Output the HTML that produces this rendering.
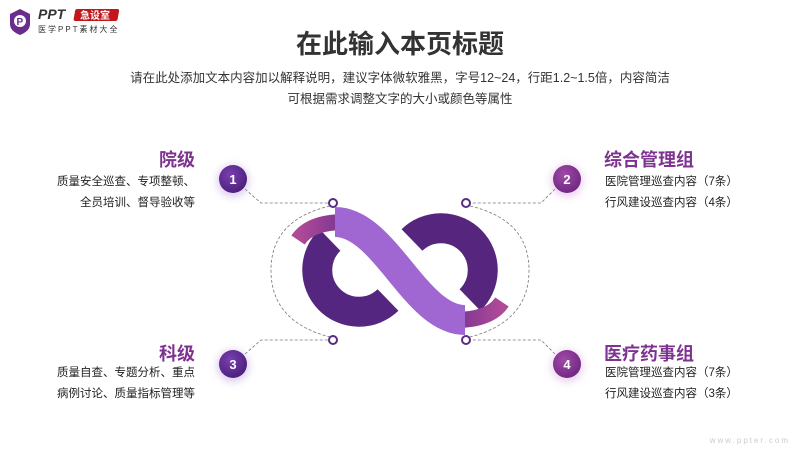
<!DOCTYPE html>
<html><head><meta charset="utf-8"><style>
body{margin:0;width:800px;height:450px;background:#fff;position:relative;overflow:hidden;font-family:"Liberation Sans","Noto Sans CJK SC",sans-serif;color:#333}
.a{position:absolute;white-space:nowrap}
.h{font-weight:bold;font-size:18px;color:#7e3390}
.t{font-size:11.5px;color:#222}
.r{text-align:right}
</style></head><body>
<svg class="a" style="left:0;top:0" width="800" height="450">
<defs>
<radialGradient id="gv" cx="40%" cy="35%" r="70%"><stop offset="0" stop-color="#7a3fb0"/><stop offset="1" stop-color="#4b1f7a"/></radialGradient>
<radialGradient id="gp" cx="40%" cy="35%" r="70%"><stop offset="0" stop-color="#a04aa8"/><stop offset="1" stop-color="#6e2680"/></radialGradient>
<linearGradient id="lp" x1="0" y1="0" x2="1" y2="0"><stop offset="0" stop-color="#b04a98"/><stop offset="1" stop-color="#7a3590"/></linearGradient>
<linearGradient id="lp2" x1="1" y1="0" x2="0" y2="0"><stop offset="0" stop-color="#b04a98"/><stop offset="1" stop-color="#7a3590"/></linearGradient>
<filter id="sh" x="-50%" y="-50%" width="200%" height="200%"><feGaussianBlur stdDeviation="4"/></filter>
</defs>
<path d="M10 14 L20 9 L30 14 L30 24 Q30 31 20 35 Q10 31 10 24Z" fill="#6a2d8c"/>
<circle cx="20" cy="21" r="6" fill="#fff"/><text x="16.5" y="25" font-size="10" font-weight="bold" fill="#6a2d8c">P</text>
<text x="38" y="19" font-size="14" font-weight="bold" font-style="italic" fill="#333">PPT</text>
<rect x="77" y="9" width="44" height="12" rx="2" fill="#c0161c" transform="skewX(-10)"/>
<text x="80" y="19" font-size="10" fill="#fff" font-weight="bold">急设室</text>
<text x="38" y="32" font-size="8" fill="#333" letter-spacing="2">医学PPT素材大全</text>
<g fill="none" stroke="#777" stroke-width="0.8" stroke-dasharray="3,2">
<path d="M245 189 L261 203 L329 203"/>
<path d="M555 189 L541 203 L470 203"/>
<path d="M245 354 L261 340 L329 340"/>
<path d="M555 354 L541 340 L470 340"/>
<path d="M330 206 Q270 220 271 272 Q272 322 330 337"/>
<path d="M470 206 Q530 220 529 272 Q528 322 470 337"/>
</g>
<g fill="#fff" stroke="#5a2a85" stroke-width="2">
<circle cx="333" cy="203" r="4"/><circle cx="466" cy="203" r="4"/>
<circle cx="333" cy="340" r="4"/><circle cx="466" cy="340" r="4"/>
</g>
<g fill="none" stroke-linecap="butt">
<path d="M330 240 A40 40 0 1 0 388 300" stroke="#55267f" stroke-width="30"/>
<path d="M298 240 Q310 222 345 222" stroke="url(#lp)" stroke-width="16"/>
<path d="M470 300 A40 40 0 1 0 412 240" stroke="#56267f" stroke-width="30"/>
<path d="M502 302 Q490 320 455 320" stroke="url(#lp2)" stroke-width="16"/>
<path d="M335 222 C385 222 415 320 465 320" stroke="#a067d2" stroke-width="30"/>
</g>
<g>
<circle cx="233" cy="181" r="16" fill="#b48fd8" opacity=".45" filter="url(#sh)"/>
<circle cx="233" cy="179" r="14" fill="url(#gv)"/>
<circle cx="567" cy="181" r="16" fill="#d09ad8" opacity=".45" filter="url(#sh)"/>
<circle cx="567" cy="179" r="14" fill="url(#gp)"/>
<circle cx="233" cy="366" r="16" fill="#b48fd8" opacity=".45" filter="url(#sh)"/>
<circle cx="233" cy="364" r="14" fill="url(#gv)"/>
<circle cx="567" cy="366" r="16" fill="#d09ad8" opacity=".45" filter="url(#sh)"/>
<circle cx="567" cy="364" r="14" fill="url(#gp)"/>
</g>
<g fill="#fff" font-size="13" font-weight="bold" text-anchor="middle">
<text x="233" y="184">1</text><text x="567" y="184">2</text><text x="233" y="369">3</text><text x="567" y="369">4</text>
</g>
<text x="790" y="443" font-size="8" fill="#ccc" text-anchor="end" letter-spacing="2">www.ppter.com</text>
</svg>
<div class="a" style="left:0;width:800px;top:24px;text-align:center;font-size:26px;font-weight:bold;color:#333">在此输入本页标题</div>
<div class="a" style="left:0;width:800px;top:68px;text-align:center;font-size:12.5px;line-height:21px;color:#333">请在此处添加文本内容加以解释说明，建议字体微软雅黑，字号12~24，行距1.2~1.5倍，内容简洁<br>可根据需求调整文字的大小或颜色等属性</div>
<div class="a h r" style="right:605px;top:146px">院级</div>
<div class="a t r" style="right:605px;top:172px;line-height:21px">质量安全巡查、专项整顿、<br>全员培训、督导验收等</div>
<div class="a h" style="left:604px;top:146px">综合管理组</div>
<div class="a t" style="left:605px;top:172px;line-height:21px">医院管理巡查内容（7条）<br>行风建设巡查内容（4条）</div>
<div class="a h r" style="right:605px;top:340px">科级</div>
<div class="a t r" style="right:605px;top:363px;line-height:21px">质量自查、专题分析、重点<br>病例讨论、质量指标管理等</div>
<div class="a h" style="left:604px;top:340px">医疗药事组</div>
<div class="a t" style="left:605px;top:363px;line-height:21px">医院管理巡查内容（7条）<br>行风建设巡查内容（3条）</div>
</body></html>
